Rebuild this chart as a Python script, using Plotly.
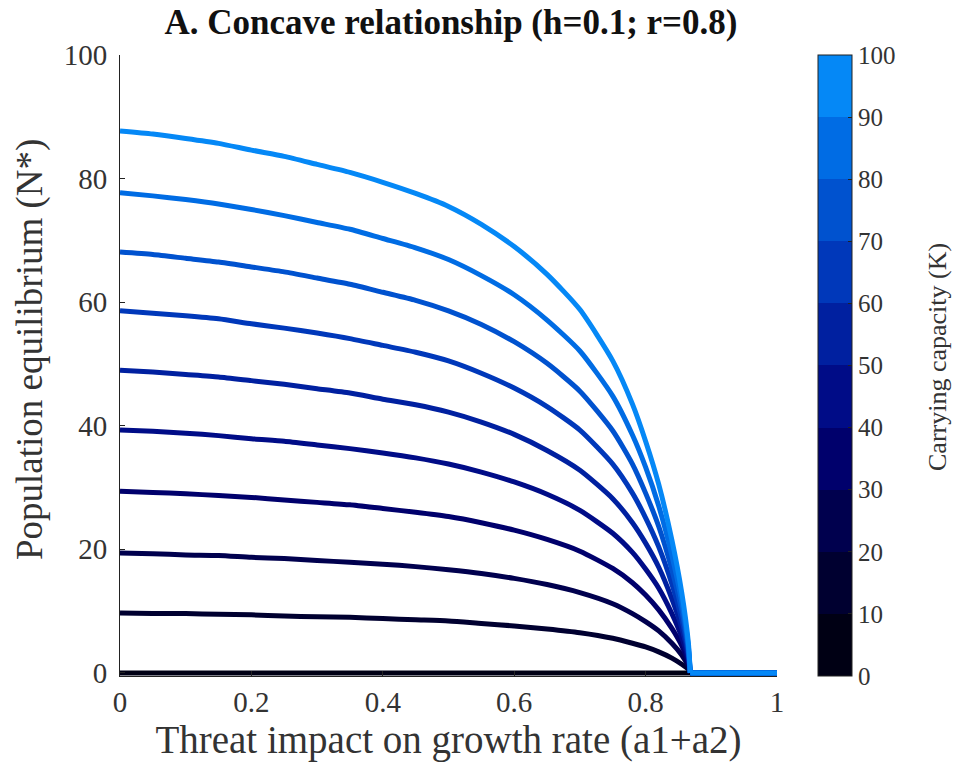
import plotly.graph_objects as go

# Threat impact on growth rate (a1+a2)
threat = [0, 0.05, 0.1, 0.15, 0.2, 0.25, 0.3, 0.35, 0.4, 0.45, 0.5, 0.55, 0.6, 0.65, 0.7, 0.75,
          0.78, 0.8, 0.82, 0.84, 0.855, 0.865, 0.868, 1.0]

# Carrying capacity of each curve
capacities = [10, 20, 30, 40, 50, 60, 70, 80, 90, 100]

# Population equilibrium (N*), one list per carrying capacity
n_k10 = [0, 0, 0, 0, 0, 0, 0, 0, 0, 0, 0, 0, 0, 0, 0, 0, 0, 0, 0, 0, 0, 0, 0, 0]
n_k20 = [9.7, 9.6, 9.6, 9.5, 9.4, 9.2, 9.1, 9.0, 8.8, 8.6, 8.4, 8.0, 7.6, 7.1, 6.5, 5.6,
         4.8, 4.2, 3.4, 2.4, 1.4, 0.6, 0, 0]
n_k30 = [19.4, 19.3, 19.1, 19.0, 18.7, 18.5, 18.2, 17.9, 17.6, 17.2, 16.7, 16.1, 15.3, 14.3, 13.0, 11.2,
         9.6, 8.3, 6.8, 4.8, 2.9, 1.1, 0, 0]
n_k40 = [29.4, 29.2, 29.0, 28.7, 28.4, 28.0, 27.6, 27.2, 26.6, 26.0, 25.3, 24.3, 23.1, 21.6, 19.7, 16.9,
         14.6, 12.6, 10.2, 7.2, 4.4, 1.7, 0, 0]
n_k50 = [39.3, 39.1, 38.8, 38.4, 37.9, 37.5, 36.9, 36.3, 35.6, 34.8, 33.8, 32.5, 30.9, 28.9, 26.3, 22.6,
         19.5, 16.8, 13.7, 9.6, 5.8, 2.2, 0, 0]
n_k60 = [49.0, 48.7, 48.3, 47.9, 47.3, 46.7, 46.0, 45.3, 44.3, 43.4, 42.2, 40.6, 38.6, 36.0, 32.8, 28.2,
         24.3, 21.0, 17.1, 12.0, 7.3, 2.8, 0, 0]
n_k70 = [58.6, 58.2, 57.8, 57.3, 56.5, 55.8, 55.0, 54.1, 53.0, 51.9, 50.5, 48.5, 46.1, 43.1, 39.3, 33.8,
         29.1, 25.1, 20.4, 14.4, 8.7, 3.3, 0, 0]
n_k80 = [68.1, 67.7, 67.1, 66.5, 65.7, 64.9, 63.9, 62.9, 61.6, 60.3, 58.6, 56.4, 53.6, 50.1, 45.6, 39.2,
         33.8, 29.1, 23.7, 16.7, 10.1, 3.9, 0, 0]
n_k90 = [77.7, 77.2, 76.6, 75.9, 75.0, 74.0, 72.9, 71.8, 70.3, 68.8, 66.9, 64.3, 61.2, 57.1, 52.1, 44.8,
         38.5, 33.3, 27.0, 19.0, 11.5, 4.4, 0, 0]
n_k100 = [87.7, 87.2, 86.5, 85.7, 84.6, 83.6, 82.3, 81.0, 79.4, 77.6, 75.5, 72.6, 69.0, 64.5, 58.8, 50.5,
          43.5, 37.5, 30.5, 21.5, 13.0, 5.0, 0, 0]

series = [n_k10, n_k20, n_k30, n_k40, n_k50, n_k60, n_k70, n_k80, n_k90, n_k100]

# Discrete colour bands (0-10, 10-20, ..., 90-100)
band_colors = [
    "rgb(0,0,20)", "rgb(0,0,48)", "rgb(0,0,78)", "rgb(0,0,108)", "rgb(0,12,135)",
    "rgb(0,32,160)", "rgb(0,56,186)", "rgb(0,82,207)", "rgb(0,108,228)", "rgb(5,136,246)",
]
cbar_ticks = [0, 10, 20, 30, 40, 50, 60, 70, 80, 90, 100]
x_ticks = [0, 0.2, 0.4, 0.6, 0.8, 1]
x_ticklabels = ["0", "0.2", "0.4", "0.6", "0.8", "1"]
y_ticks = [0, 20, 40, 60, 80, 100]

FONT = "Liberation Serif, Times New Roman, serif"
W, H = 958, 771
ML, MR, MT, MB = 120, 181, 55, 95
PW, PH = W - ML - MR, H - MT - MB

fig = go.Figure()
for k, vals, col in zip(capacities, series, band_colors):
    # index where the curve reaches zero: smooth part before, straight tail after
    iz = next(i for i, v in enumerate(vals) if v == 0)
    fig.add_trace(go.Scatter(
        x=threat[:iz + 1], y=vals[:iz + 1], mode="lines",
        line=dict(color=col, width=5, shape="spline", smoothing=0.6),
        name=f"K={k}", showlegend=False, hoverinfo="skip",
    ))
    fig.add_trace(go.Scatter(
        x=threat[iz:], y=vals[iz:], mode="lines",
        line=dict(color=col, width=5),
        showlegend=False, hoverinfo="skip",
    ))

# discrete colour scale for the colour bar
cscale = []
n = len(band_colors)
for i, c in enumerate(band_colors):
    cscale.append([i / n, c])
    cscale.append([(i + 1) / n, c])

fig.add_trace(go.Scatter(
    x=[None], y=[None], mode="markers", showlegend=False, hoverinfo="skip",
    marker=dict(
        color=[0], cmin=0, cmax=100, colorscale=cscale, showscale=True,
        colorbar=dict(
            x=(818 - ML) / PW, xanchor="left", xpad=0, ypad=0,
            y=0.5, yanchor="middle", len=1.0, lenmode="fraction",
            thickness=34, outlinewidth=1, outlinecolor="#222",
            tickmode="array", tickvals=cbar_ticks,
            ticks="inside", ticklen=4, tickcolor="#222",
            tickfont=dict(family=FONT, size=25, color="#333"),
        ),
    ),
))

fig.add_annotation(
    text="Carrying capacity (K)", textangle=-90,
    xref="paper", yref="paper",
    x=(937 - ML) / PW, y=(H - MB - 357) / PH,
    xanchor="center", yanchor="middle", showarrow=False,
    font=dict(family=FONT, size=26, color="#333"),
)
fig.add_annotation(
    text="Population equilibrium (N*)", textangle=-90,
    xref="paper", yref="paper",
    x=(30 - ML) / PW, y=(H - MB - 350) / PH,
    xanchor="center", yanchor="middle", showarrow=False,
    font=dict(family=FONT, size=37, color="#333"),
)

fig.update_layout(
    width=W, height=H,
    margin=dict(l=ML, r=MR, t=MT, b=MB),
    paper_bgcolor="white", plot_bgcolor="white",
    title=dict(text="<b>A. Concave relationship (h=0.1; r=0.8)</b>",
               x=(451 - ML) / PW, xref="paper", xanchor="center",
               y=1 - 22 / H, yanchor="middle",
               font=dict(family=FONT, size=35, color="#111")),
    font=dict(family=FONT, color="#333"),
)
fig.update_xaxes(
    range=[0, 1], tickmode="array", tickvals=x_ticks, ticktext=x_ticklabels,
    ticks="inside", ticklen=5, tickcolor="#222",
    showline=True, linecolor="#222", linewidth=1, mirror=False,
    showgrid=False, zeroline=False,
    tickfont=dict(family=FONT, size=29, color="#333"),
    title=dict(text="Threat impact on growth rate (a1+a2)",
               font=dict(family=FONT, size=39, color="#333"), standoff=8),
)
fig.update_yaxes(
    range=[-0.5, 100], tickmode="array", tickvals=y_ticks,
    ticks="inside", ticklen=5, tickcolor="#222",
    showline=True, linecolor="#222", linewidth=1, mirror=False,
    showgrid=False, zeroline=False,
    tickfont=dict(family=FONT, size=29, color="#333"),
    ticklabelstandoff=6,
)

fig.write_html("out.html")
